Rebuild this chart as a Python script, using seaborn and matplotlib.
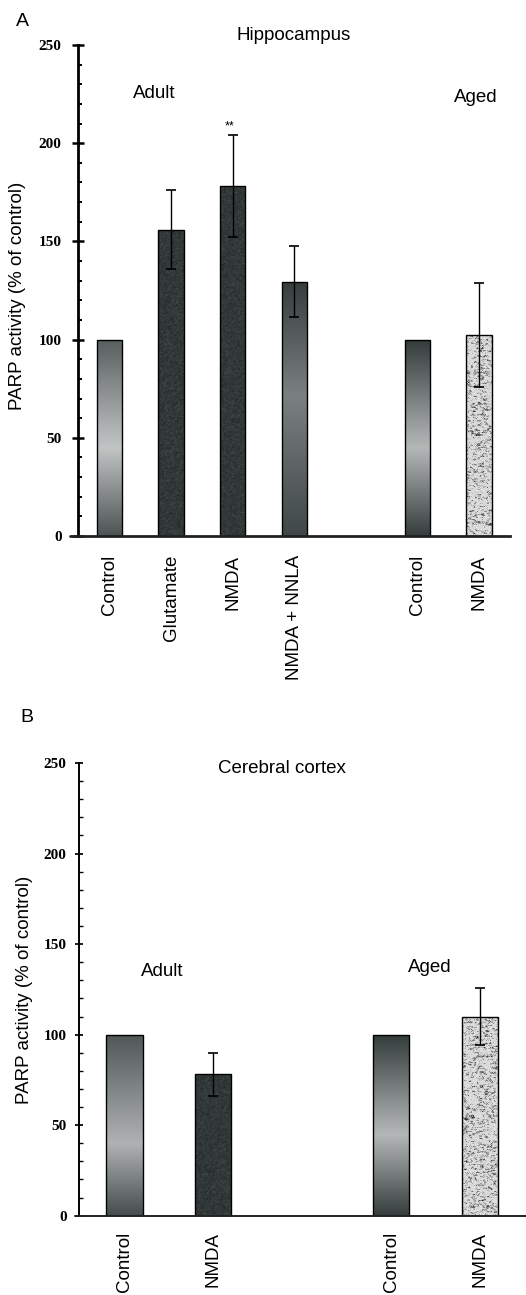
import numpy as np
import matplotlib
matplotlib.use("Agg")
import matplotlib.pyplot as plt
from matplotlib.ticker import MultipleLocator
from matplotlib.lines import Line2D
import seaborn as sns

# ---------------- data ----------------
a_labels = ["Control", "Glutamate", "NMDA", "NMDA + NNLA", "Control", "NMDA"]
a_pos = [0, 1, 2, 3, 5, 6]
a_values = [100, 156, 178, 129.5, 100, 102.5]
a_err = [0, 20, 26, 18, 0, 26.5]

b_labels = ["Control", "NMDA", "Control", "NMDA"]
b_pos = [0, 1, 3, 4]
b_values = [100, 78, 100, 110]
b_err = [0, 12, 0, 15.5]

a_fills = ["gradA", "dark", "dark", "gradMid", "gradAged", "speckle"]
b_fills = ["gradB", "dark", "gradAged", "speckle"]

W, H = 526, 1295
sns.set_style("white")
plt.rcParams['font.family'] = ['Liberation Sans', 'DejaVu Sans']
plt.rcParams['text.color'] = 'black'
plt.rcParams['xtick.color'] = 'black'
plt.rcParams['ytick.color'] = 'black'
plt.rcParams['xtick.labelcolor'] = 'black'
plt.rcParams['ytick.labelcolor'] = 'black'

fig = plt.figure(figsize=(W / 100, H / 100), dpi=100)

rng = np.random.default_rng(3)


def texture(kind, h, w):
    t = np.linspace(0, 1, h)[:, None] * np.ones((1, w))
    stops = {
        "gradA": ([0, 0.55, 1], [0.37, 0.77, 0.33]),
        "gradB": ([0, 0.6, 1], [0.34, 0.70, 0.30]),
        "gradMid": ([0, 0.45, 1], [0.24, 0.50, 0.28]),
        "gradAged": ([0, 0.55, 1], [0.23, 0.72, 0.24]),
    }
    if kind in stops:
        xs, vs = stops[kind]
        v = np.interp(t, xs, vs)
        tint = 0.04 * (1 - v)
        rgb = np.dstack([v - tint, v, v])
    elif kind == "dark":
        n = rng.normal(0, 1, (h, w))
        n = (n + np.roll(n, 1, 0) + np.roll(n, 1, 1)) / 3
        v = 0.21 + 0.035 * n
        rgb = np.dstack([v - 0.015, v + 0.01, v + 0.01])
    else:  # speckle
        n = rng.random((h, w))
        n = (n + np.roll(n, 1, 0) + np.roll(n, 1, 1) + np.roll(n, -1, 1)) / 4
        v = 0.86 - 1.6 * np.clip(0.5 - n, 0, None)
        v = v + 0.05 * (rng.random((h, w)) - 0.5)
        rgb = np.dstack([v, v, v])
    return np.clip(rgb, 0, 1)


def panel(rect, pos, values, err, labels, fills, xlim, spine_lw, ext_left_px,
          tick_len, label_pad, xlabel_pad, px_per_unit_x, px_per_unit_y):
    ax = fig.add_axes(rect)
    sns.barplot(x=pos, y=values, native_scale=True, width=0.41, errorbar=None,
                color="white", edgecolor="black", linewidth=1.0, ax=ax)
    ax.set_xlim(*xlim)
    ax.set_ylim(0, 250)
    for patch, kind in zip(ax.patches, fills):
        x0, y0 = patch.get_x(), patch.get_y()
        w, h = patch.get_width(), patch.get_height()
        hp = max(int(h * px_per_unit_y), 2)
        wp = max(int(w * px_per_unit_x), 2)
        img = texture(kind, hp, wp)
        im = ax.imshow(img, extent=[x0, x0 + w, y0, y0 + h], origin="upper",
                       aspect="auto", zorder=1.5, interpolation="nearest")
        im.set_clip_path(patch)
        patch.set_facecolor("none")
        patch.set_zorder(2)
    ax.set_xlim(*xlim)
    ax.set_ylim(0, 250)
    p = [x for x, e in zip(pos, err) if e > 0]
    v = [y for y, e in zip(values, err) if e > 0]
    e = [e for e in err if e > 0]
    ax.errorbar(p, v, yerr=e, fmt="none", ecolor="black", elinewidth=1.0,
                capsize=3.5, capthick=1.2, zorder=3)

    for s in ["top", "right"]:
        ax.spines[s].set_visible(False)
    ax.spines["left"].set_linewidth(spine_lw)
    ax.spines["bottom"].set_linewidth(spine_lw)
    ax.spines["left"].set_color("black")
    ax.spines["bottom"].set_color("#222222")
    axw_px = rect[2] * W
    ax.add_line(Line2D([-ext_left_px / axw_px, 0], [0, 0], transform=ax.transAxes,
                       color="#222222", lw=spine_lw, clip_on=False))

    ax.set_yticks(range(0, 251, 50))
    ax.yaxis.set_minor_locator(MultipleLocator(10))
    ax.tick_params(axis="y", which="major", direction="inout", length=tick_len,
                   width=spine_lw * 0.9, pad=label_pad, left=True)
    ax.tick_params(axis="y", which="minor", direction="in", length=3.2,
                   width=spine_lw * 0.7, left=True)
    for lab in ax.get_yticklabels():
        lab.set_fontfamily(["Liberation Serif", "DejaVu Serif"])
        lab.set_fontweight("bold")
        lab.set_fontsize(11)
        lab.set_color("black")

    ax.set_xticks(pos)
    ax.set_xticklabels(labels, rotation=90, fontsize=13.5, va="top", ha="center",
                       color="black")
    ax.tick_params(axis="x", length=0, pad=xlabel_pad)
    ax.set_xlabel("")
    ax.set_ylabel("")
    return ax


# Panel A
axA = panel([78 / W, 1 - 536 / H, 432 / W, 491 / H], a_pos, a_values, a_err,
            a_labels, a_fills, (-0.512, 6.504), 2.0, 8, 8.6, 7.5, 13.5,
            61.5, 491 / 250)
# Panel B
axB = panel([79 / W, 1 - 1215.7 / H, 447 / W, 452.7 / H], b_pos, b_values, b_err,
            b_labels, b_fills, (-0.509, 4.517), 1.4, 4, 5.8, 6.0, 11.5,
            89, 452.7 / 250)


def ftext(x, y, s, **kw):
    fig.text(x / W, 1 - y / H, s, ha="center", va="center", color="black", **kw)


ftext(22, 21, "A", fontsize=14)
ftext(294, 36, "Hippocampus", fontsize=13.5)
ftext(154, 93, "Adult", fontsize=13.5)
ftext(476, 97, "Aged", fontsize=13.5)
ftext(230, 126, "**", fontsize=9)
ftext(18, 296, "PARP activity (% of control)", fontsize=13.5, rotation=90)

ftext(27, 717, "B", fontsize=14)
ftext(282, 769, "Cerebral cortex", fontsize=13.5)
ftext(162, 971, "Adult", fontsize=13.5)
ftext(430, 967, "Aged", fontsize=13.5)
ftext(25, 990, "PARP activity (% of control)", fontsize=13.5, rotation=90)

fig.savefig("out.png", dpi=100)
